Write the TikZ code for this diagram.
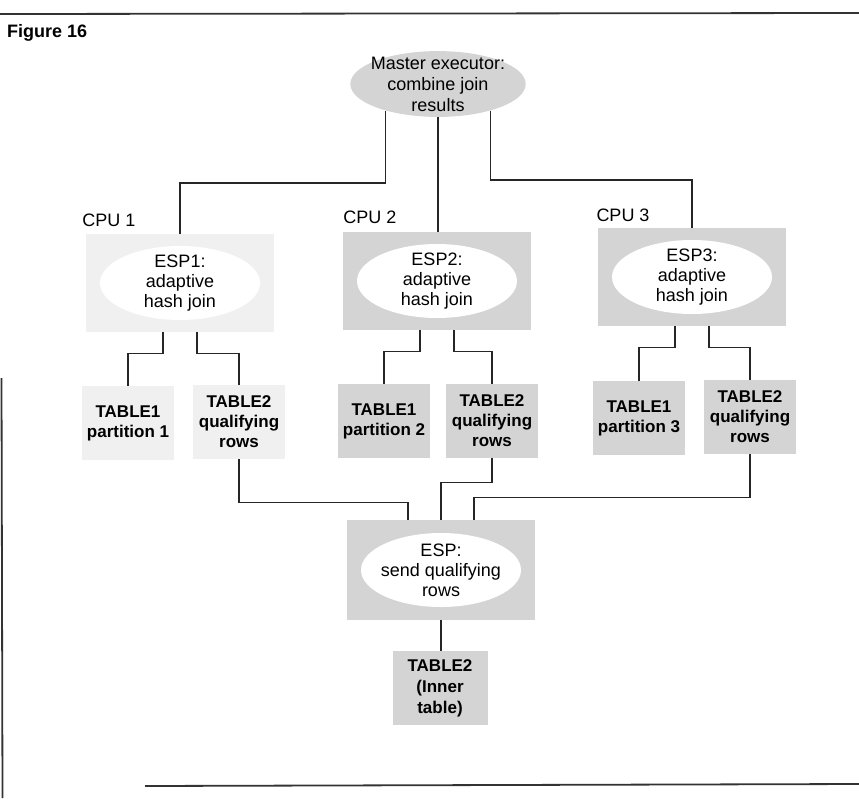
\documentclass[tikz,border=0pt]{standalone}
\usepackage{fontspec}
\setmainfont{Liberation Sans}
\usetikzlibrary{shapes.geometric}
\definecolor{stipA}{gray}{0.83}
\definecolor{stipB}{gray}{0.94}
\begin{document}
\begin{tikzpicture}[x=1pt,y=1pt,
  conn/.style={line width=1.4pt, black!85},
  frameline/.style={line width=1.8pt, black!80},
  lbl/.style={font=\fontsize{18}{21}\selectfont, align=center, inner sep=0pt},
  tbl/.style={rectangle, fill=stipA, minimum width=92pt, minimum height=74pt, inner sep=0pt, align=center, font=\bfseries\fontsize{17}{20}\selectfont},
  espbox/.style={rectangle, fill=stipA, minimum width=188pt, minimum height=98pt, inner sep=0pt, align=center, font=\fontsize{18}{20}\selectfont,
    path picture={\fill[white] (path picture bounding box.center) ellipse [x radius=80pt, y radius=37pt];}},
]
\useasboundingbox (0,0) rectangle (859,-798);

% frame lines
\draw[frameline] (0,-14) -- (859,-13);
\draw[frameline] (1.5,-378) -- (2.5,-798);
\draw[frameline] (145,-786) -- (859,-784);

\node[lbl, font=\bfseries\fontsize{18}{21}\selectfont, anchor=west] (fig) at (7,-33) {Figure 16};

\node[ellipse, fill=stipA, lbl, inner xsep=-5pt, inner ysep=-4pt] (master) at (438,-84) {Master executor:\\combine join\\results};

\node[lbl] (cpu1) at (109,-220) {CPU 1};
\node[lbl] (cpu2) at (370,-217) {CPU 2};
\node[lbl] (cpu3) at (623,-215) {CPU 3};

\node[espbox, fill=stipB] (esp1) at (180,-283) {ESP1:\\adaptive\\hash join};
\node[espbox] (esp2) at (437,-281) {ESP2:\\adaptive\\hash join};
\node[espbox] (esp3) at (692,-277) {ESP3:\\adaptive\\hash join};

\node[tbl, fill=stipB] (t1p1) at (128,-423) {TABLE1\\partition 1};
\node[tbl, fill=stipB] (t2q1) at (239,-422) {TABLE2\\qualifying\\rows};
\node[tbl] (t1p2) at (384,-421) {TABLE1\\partition 2};
\node[tbl] (t2q2) at (492,-421) {TABLE2\\qualifying\\rows};
\node[tbl] (t1p3) at (639,-418) {TABLE1\\partition 3};
\node[tbl] (t2q3) at (750,-417) {TABLE2\\qualifying\\rows};

\node[espbox, minimum height=100pt] (send) at (441,-570) {ESP:\\send qualifying\\rows};
\node[tbl, minimum width=95pt, font=\bfseries\fontsize{17}{21}\selectfont] (inner) at (440,-688) {TABLE2\\(Inner\\table)};

% buses
\coordinate (busL) at (0,-183);
\coordinate (busR) at (0,-180);

\draw[conn] (master.207) -- (master.207 |- busL) -| (esp1.north);
\draw[conn] (master.south) -- (master.south |- esp2.north);
\draw[conn] (master.333) -- (master.333 |- busR) -| (esp3.north);

\draw[conn] ([xshift=-17pt]esp1.south) -- ++(0,-21) -| (t1p1.north);
\draw[conn] ([xshift=17pt]esp1.south) -- ++(0,-21) -| (t2q1.north);
\draw[conn] ([xshift=-17pt]esp2.south) -- ++(0,-21) -| (t1p2.north);
\draw[conn] ([xshift=17pt]esp2.south) -- ++(0,-21) -| (t2q2.north);
\draw[conn] ([xshift=-17pt]esp3.south) -- ++(0,-21) -| (t1p3.north);
\draw[conn] ([xshift=17pt]esp3.south) -- ++(0,-21) -| (t2q3.north);

\draw[conn] (t2q1.south) -- ++(0,-43) -| ([xshift=-33pt]send.north);
\draw[conn] (t2q2.south) -- ++(0,-24) -| (send.north);
\draw[conn] (t2q3.south) -- ++(0,-43) -| ([xshift=33pt]send.north);
\draw[conn] (send.south) -- (send.south |- inner.north);
\end{tikzpicture}
\end{document}
